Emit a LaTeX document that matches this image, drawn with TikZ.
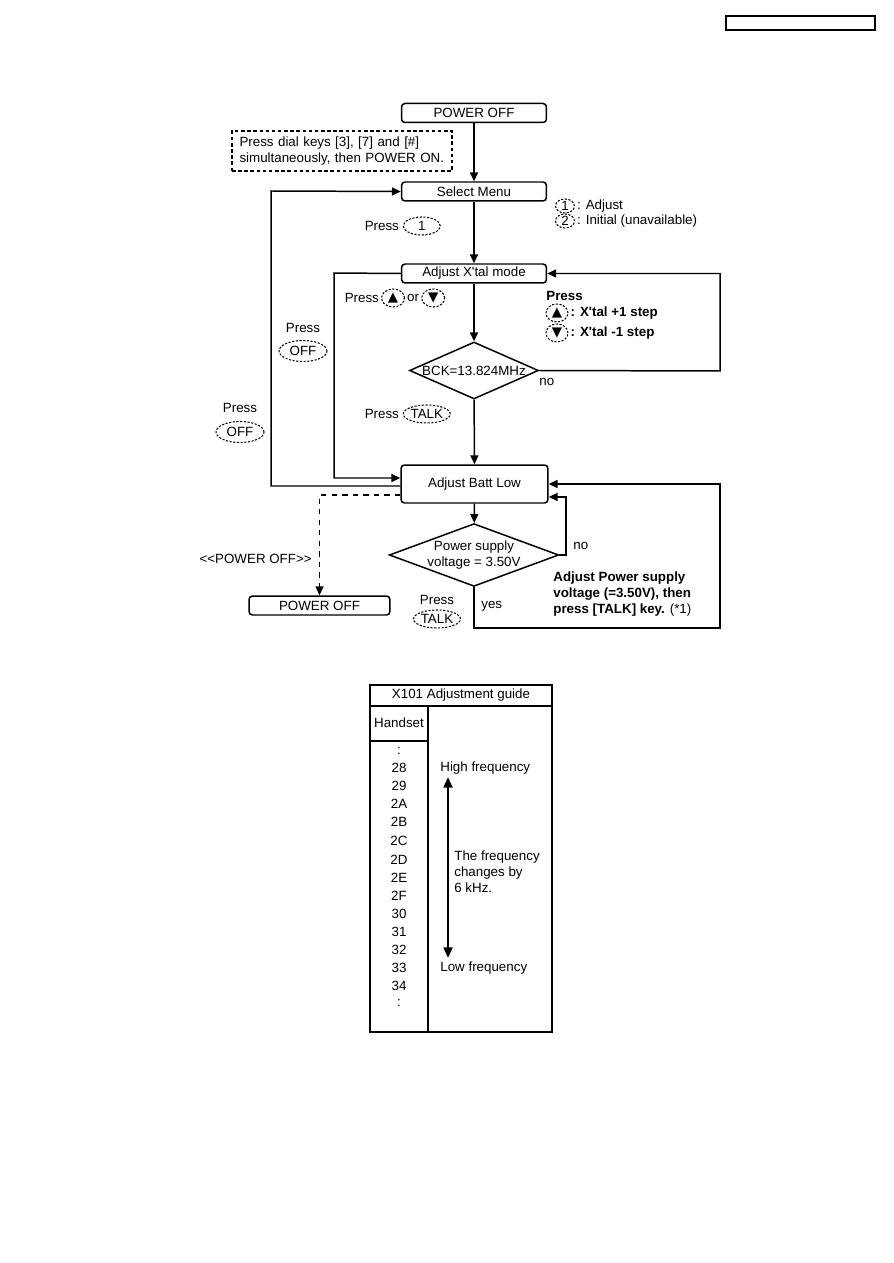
\documentclass[tikz,border=0pt]{standalone}
\usepackage{fontspec}
\setmainfont{Liberation Sans}[Ligatures=TeXOff]
\newfontfamily\symfont{DejaVu Sans}
\usepackage{tikz}
\usetikzlibrary{shapes.geometric, arrows.meta, positioning}

\tikzset{
  box/.style={draw, line width=0.85pt, rounded corners=2pt, minimum width=2.9cm, minimum height=0.38cm, inner sep=0pt},
  decision/.style={draw, line width=0.85pt, diamond, inner sep=0pt, align=center},
  keyoval/.style={draw, ellipse, line width=0.6pt, dash pattern=on 1.2pt off 0.9pt, inner sep=0pt, minimum height=0.36cm},
  flow/.style={line width=0.85pt, -{Triangle[length=5pt,width=4.5pt]}},
}
\newcommand{\up}{{\symfont\char"25B2}}
\newcommand{\dn}{{\symfont\char"25BC}}

\begin{document}
\begin{tikzpicture}[x=0.02cm, y=-0.02cm, font=\fontsize{7.6}{9}\selectfont]
\useasboundingbox (0,0) rectangle (893,1263);
% page header box
\draw[line width=0.85pt] (726,16) rectangle (875,30);

% main boxes
\node[box] (poff) at (474,113) {POWER OFF};
\node[draw, line width=0.7pt, dash pattern=on 2pt off 1.5pt, minimum width=4.4cm, minimum height=0.8cm,
      align=left, text width=4.1cm, inner sep=0pt] (note) at (342,151)
  {Press dial keys [3], [7] and [\#]\\simultaneously, then POWER ON.};
\node[box] (menu) at (474,191.5) {Select Menu};
\node[box] (xtal) at (474,273.5) {Adjust X'tal mode};
\node[decision, minimum width=2.58cm, minimum height=1.14cm, aspect=2.26] (bck) at (474,370.5) {BCK=13.824MHz};
\node[box, minimum width=2.94cm, minimum height=0.76cm] (batt) at (474.5,484) {Adjust Batt Low};
\node[decision, minimum width=3.04cm, minimum height=1.12cm, aspect=2.7] (volt) at (474,555) {Power supply\\voltage = 3.50V};
\node[box, minimum width=2.82cm] (poffend) at (319.5,605.5) {POWER OFF};

% loop corners
\coordinate (rx) at (720,371);
\coordinate (rb) at (720,628);
\coordinate (lx1) at (334,273);
\coordinate (lx2) at (271,191);
\coordinate (nx) at (566,555);

% connectors
\draw[flow] (poff) -- (menu);
\draw[flow] (menu) -- (xtal);
\draw[flow] (xtal) -- (bck);
\draw[flow] (bck) -- (batt);
\draw[flow] (batt) -- (volt);
\draw[flow] (bck.east) -- (rx) |- (xtal.east);
\draw[flow] (xtal.west) -- (lx1) |- ([yshift=0.12cm]batt.west);
\draw[flow] ([yshift=-0.04cm]batt.west) -| (lx2) -- (menu.west);
\draw[flow, dashed] ([yshift=-0.22cm]batt.west) -| (poffend.north);
\draw[flow] (volt.east) -- (nx) |- ([yshift=-0.26cm]batt.east);
\draw[flow] (volt.south) |- (rb) |- (batt.east);

% key legend
\node[keyoval, minimum width=0.38cm, minimum height=0.28cm] (k1) at (565,206) {1};
\node[right=0pt of k1, inner sep=1pt] {: Adjust};
\node[keyoval, minimum width=0.38cm, minimum height=0.28cm] (k2) at (565,221) {2};
\node[right=0pt of k2, inner sep=1pt] {: Initial (unavailable)};

% press labels
\node[anchor=east, inner sep=1pt] (p1) at (401,226) {Press};
\node[keyoval, minimum width=0.74cm, right=1pt of p1] {1};
\node[anchor=east, inner sep=1pt] (p2) at (381,298) {Press};
\node[keyoval, minimum width=0.46cm, right=0pt of p2] (kup) {\up};
\node[right=0pt of kup, inner sep=1pt] (por) {or};
\node[keyoval, minimum width=0.46cm, right=0pt of por] {\dn};
\node[anchor=east, inner sep=1pt] (p3) at (401,414) {Press};
\node[keyoval, minimum width=0.94cm, right=1pt of p3] {TALK};
\node (p4) at (303,328) {Press};
\node[keyoval, minimum width=0.96cm, minimum height=0.42cm] at (303,351) {OFF};
\node (p5) at (240,408) {Press};
\node[keyoval, minimum width=0.96cm, minimum height=0.42cm] at (240,432) {OFF};
\node (p6) at (437,600) {Press};
\node[keyoval, minimum width=0.94cm] at (437,619) {TALK};

% step legend
\node[anchor=west, font=\fontsize{7.6}{9}\selectfont\bfseries, inner sep=0pt] at (546,296) {Press};
\node[keyoval, minimum width=0.44cm] (ku) at (557,313) {\up};
\node[right=0pt of ku, inner sep=1pt, font=\fontsize{7.6}{9}\selectfont\bfseries] {: X'tal +1 step};
\node[keyoval, minimum width=0.44cm] (kd) at (557,333) {\dn};
\node[right=0pt of kd, inner sep=1pt, font=\fontsize{7.6}{9}\selectfont\bfseries] {: X'tal -1 step};

% branch labels
\node[anchor=west, inner sep=0pt] at (539,382) {no};
\node[anchor=west, inner sep=0pt] at (573,546) {no};
\node[anchor=west, inner sep=0pt] at (481,606) {yes};
\node[anchor=east, inner sep=0pt] at (312,559) {<<POWER OFF>>};
\node[anchor=north west, align=left, inner sep=0pt, font=\fontsize{7.6}{9.2}\selectfont\bfseries] at (553,571)
  {Adjust Power supply\\voltage (=3.50V), then\\press [TALK] key. {\mdseries(*1)}};

% adjustment guide table
\draw[line width=0.85pt] (370,685) rectangle (552,1032);
\draw[line width=0.85pt] (370,706) -- (552,706);
\draw[line width=0.85pt] (428,706) -- (428,1032);
\draw[line width=0.85pt] (370,741) -- (428,741);
\node at (461,695.5) {X101 Adjustment guide};
\node at (399,723) {Handset};
\foreach \y/\l in {751/:, 768/28, 786/29, 804/2A, 822/2B, 841/2C, 860/2D, 878/2E, 896/2F, 914/30, 932/31, 950/32, 968/33, 986/34, 1003/:}
  \node at (399,\y) {\l};
\node[anchor=west, inner sep=0pt] at (440,768) {High frequency};
\node[anchor=west, inner sep=0pt] at (440,968) {Low frequency};
\draw[line width=1.3pt, {Triangle[length=6pt,width=5pt]}-{Triangle[length=6pt,width=5pt]}] (448,777) -- (448,958);
\node[anchor=north west, align=left, inner sep=0pt, font=\fontsize{7.6}{9.3}\selectfont] at (454,850)
  {The frequency\\changes by\\6 kHz.};
\end{tikzpicture}
\end{document}
